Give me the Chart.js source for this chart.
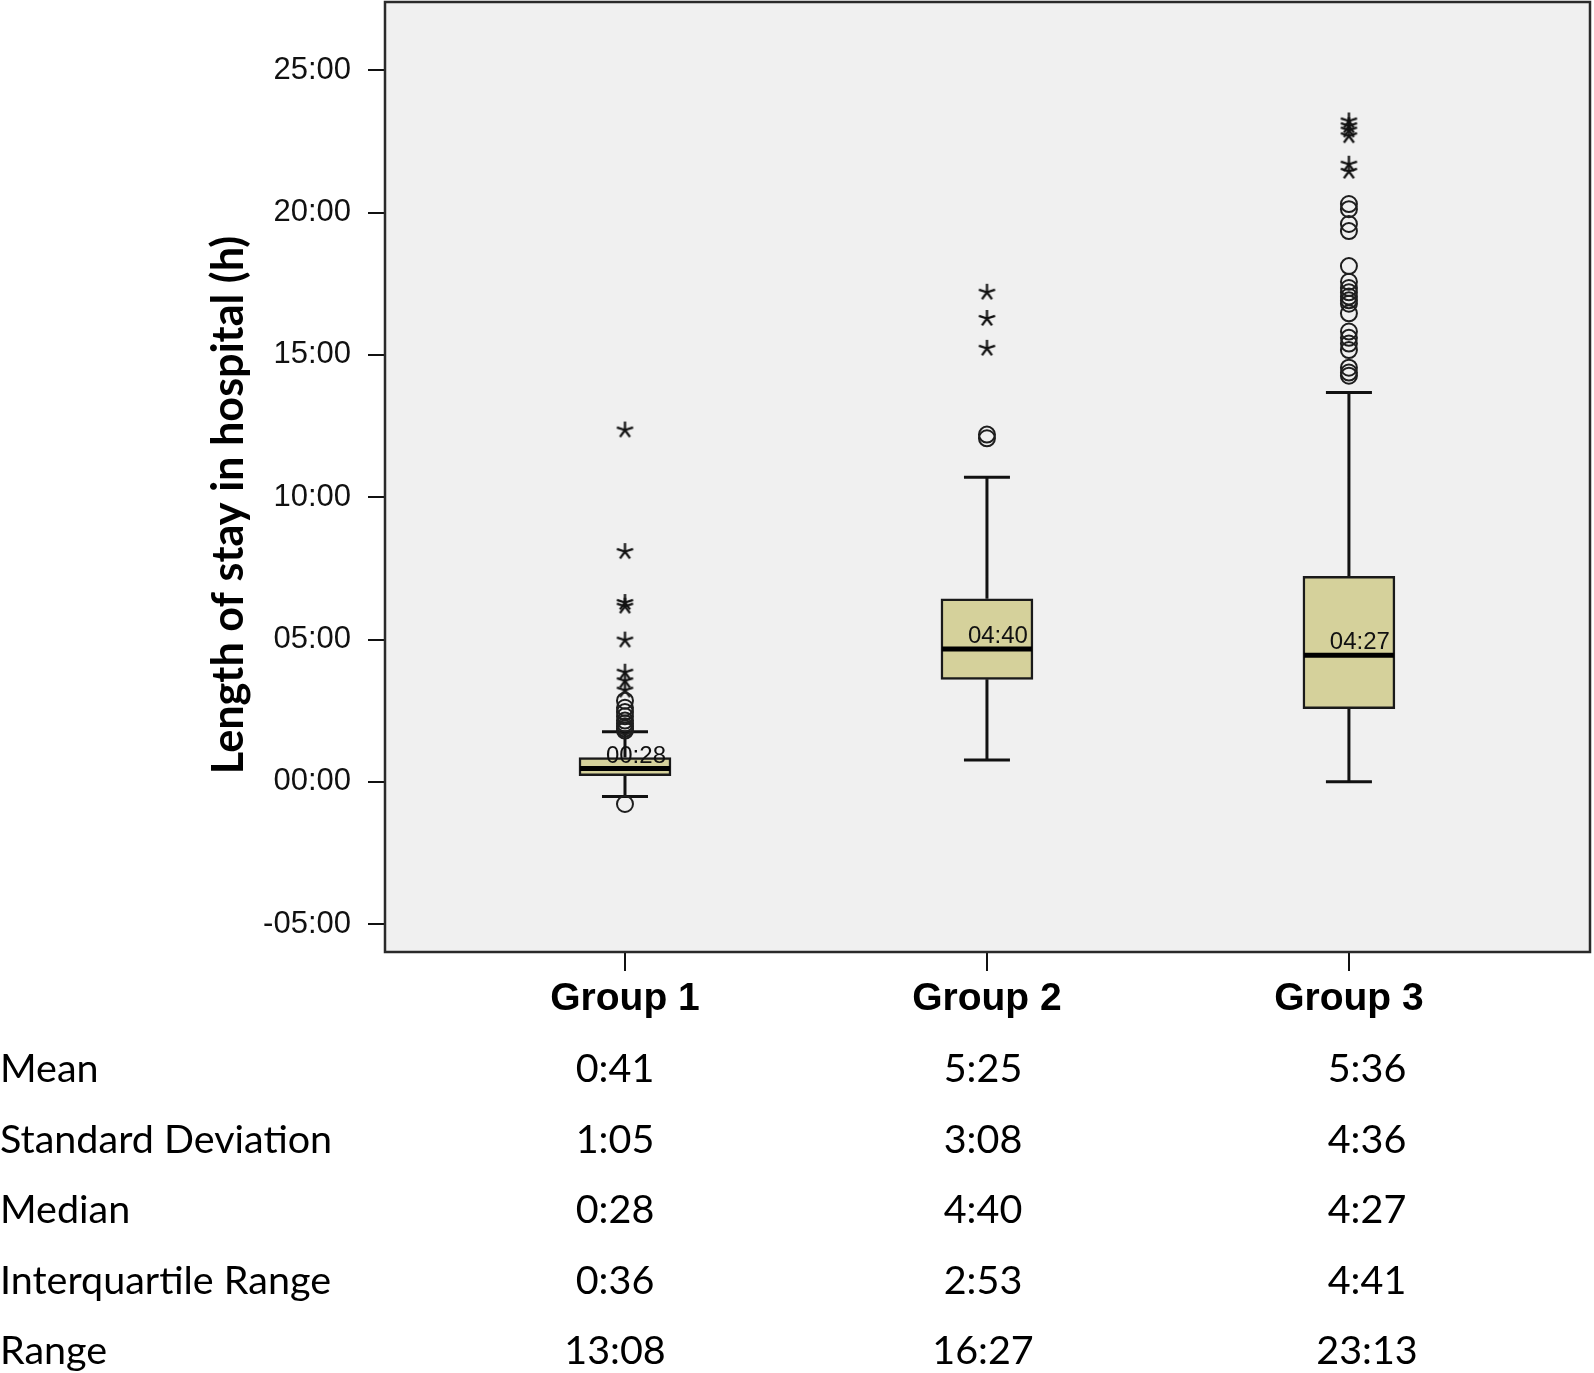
<!DOCTYPE html>
<html>
<head>
<meta charset="utf-8">
<script src="https://cdn.jsdelivr.net/npm/chart.js@4.4.1/dist/chart.umd.min.js"></script>
<style>
  html, body { margin: 0; padding: 0; background: #fff; }
  canvas { display: block; }
</style>
</head>
<body>
<canvas id="c" width="1594" height="1373"></canvas>
<script>
// data (hours)
const groups = ['Group 1', 'Group 2', 'Group 3'];
const q1 = [0.22, 3.60, 2.57];
const q3 = [0.85, 6.43, 7.22];
const medians = [0.4667, 4.6667, 4.45];
const whiskerLow = [-0.52, 0.77, 0.0];
const whiskerHigh = [1.76, 10.70, 13.68];
const circleOutliers = [
  [2.85, 2.6, 2.45, 2.3, 2.15, 2.05, 1.95, 1.87, 1.8, -0.78],
  [12.2, 12.07],
  [20.3, 20.12, 19.6, 19.35, 18.12, 17.57, 17.35, 17.2, 17.05, 16.92, 16.8, 16.46, 15.82, 15.6, 15.4, 15.17, 14.55, 14.38, 14.27]
];
const starOutliers = [
  [12.36, 8.09, 6.3, 6.17, 4.98, 3.85, 3.55, 3.22],
  [17.2, 16.28, 15.23],
  [23.22, 23.05, 22.9, 22.7, 21.7, 21.45]
];
const yTicks = [-5, 0, 5, 10, 15, 20, 25];

// table under the plot
const statNames = ['Mean', 'Standard Deviation', 'Median', 'Interquartile Range', 'Range'];
const statGroup1 = ['0:41', '1:05', '0:28', '0:36', '13:08'];
const statGroup2 = ['5:25', '3:08', '4:40', '2:53', '16:27'];
const statGroup3 = ['5:36', '4:36', '4:27', '4:41', '23:13'];

const yTitle = 'Length of stay in hospital (h)';

// sizes
const BOX_W = 92;        // px
const PX_PER_UNIT = 362; // x px per group step
const capHalf = 23 / PX_PER_UNIT;
const boxHalf = (BOX_W / 2 - 1) / PX_PER_UNIT;

function pad2(n) { return (n < 10 ? '0' : '') + n; }
function fmtHours(h) {
  const sign = h < 0 ? '-' : '';
  const m = Math.round(Math.abs(h) * 60);
  return sign + pad2(Math.floor(m / 60)) + ':' + pad2(m % 60);
}

function makeStar(size, lw) {
  const c = document.createElement('canvas');
  c.width = size; c.height = size;
  const g = c.getContext('2d');
  g.strokeStyle = '#111';
  g.lineWidth = lw;
  const r = size / 2 - 1;
  g.beginPath();
  for (let k = 0; k < 5; k++) {
    const a = -Math.PI / 2 + k * 2 * Math.PI / 5;
    g.moveTo(size / 2, size / 2);
    g.lineTo(size / 2 + r * Math.cos(a), size / 2 + r * Math.sin(a));
  }
  g.stroke();
  return c;
}
const starImg = makeStar(19, 2.3);

// build segment data
const whiskerData = [];
const capData = [];
const medianData = [];
groups.forEach((g, i) => {
  const x = i + 1;
  whiskerData.push({x: x, y: q3[i]}, {x: x, y: whiskerHigh[i]}, {x: x, y: null});
  whiskerData.push({x: x, y: q1[i]}, {x: x, y: whiskerLow[i]}, {x: x, y: null});
  capData.push({x: x - capHalf, y: whiskerHigh[i]}, {x: x + capHalf, y: whiskerHigh[i]}, {x: x, y: null});
  capData.push({x: x - capHalf, y: whiskerLow[i]}, {x: x + capHalf, y: whiskerLow[i]}, {x: x, y: null});
  medianData.push({x: x - boxHalf, y: medians[i]}, {x: x + boxHalf, y: medians[i]}, {x: x, y: null});
});
const boxData = groups.map((g, i) => ({x: i + 1, y: [q1[i], q3[i]]}));
const circleData = [];
const starData = [];
circleOutliers.forEach((arr, i) => arr.forEach(v => circleData.push({x: i + 1, y: v})));
starOutliers.forEach((arr, i) => arr.forEach(v => starData.push({x: i + 1, y: v})));

const boxPlugin = {
  id: 'boxExtras',
  beforeDraw(chart) {
    const {ctx, chartArea: a} = chart;
    ctx.save();
    ctx.fillStyle = '#fff';
    ctx.fillRect(0, 0, chart.width, chart.height);
    ctx.fillStyle = '#f0f0f0';
    ctx.fillRect(a.left, a.top, a.right - a.left, a.bottom - a.top);
    ctx.restore();
  },
  afterDatasetsDraw(chart) {
    const {ctx, scales: {x, y}} = chart;
    ctx.save();
    ctx.font = '24px "Liberation Sans", Arial, sans-serif';
    ctx.fillStyle = '#111';
    ctx.textAlign = 'right';
    ctx.textBaseline = 'alphabetic';
    medians.forEach((m, i) => {
      const px = x.getPixelForValue(i + 1) + BOX_W / 2 - 5;
      const py = y.getPixelForValue(m) - 6;
      ctx.fillText(fmtHours(m), px, py);
    });
    ctx.restore();
  },
  afterDraw(chart) {
    const {ctx, chartArea: a} = chart;
    ctx.save();
    // frame
    ctx.strokeStyle = '#2a2a2a';
    ctx.lineWidth = 2.5;
    ctx.strokeRect(a.left, a.top, a.right - a.left, a.bottom - a.top);
    // y title, sized to the reference length
    ctx.font = 'bold 40px Lato, "Liberation Sans", sans-serif';
    const fs = 40 * 539 / ctx.measureText(yTitle).width;
    ctx.font = 'bold ' + fs.toFixed(1) + 'px Lato, "Liberation Sans", sans-serif';
    ctx.translate(229, 505);
    ctx.rotate(-Math.PI / 2);
    ctx.fillStyle = '#000';
    ctx.textAlign = 'center';
    ctx.textBaseline = 'middle';
    ctx.fillText(yTitle, 0, 0);
    ctx.restore();

    // stats table
    ctx.save();
    ctx.font = '39.5px Lato, "Open Sans", sans-serif';
    ctx.fillStyle = '#000';
    ctx.textBaseline = 'alphabetic';
    const colX = [615, 983, 1367];
    const cols = [statGroup1, statGroup2, statGroup3];
    statNames.forEach((name, r) => {
      const by = 1082 + r * 70.5;
      ctx.textAlign = 'left';
      ctx.fillText(name, 0, by);
      ctx.textAlign = 'center';
      cols.forEach((col, c) => ctx.fillText(col[r], colX[c], by));
    });
    ctx.restore();
  }
};

new Chart(document.getElementById('c'), {
  type: 'bar',
  data: {
    datasets: [
      {
        type: 'line', data: whiskerData, borderColor: '#111', borderWidth: 3,
        pointRadius: 0, spanGaps: false, order: 5
      },
      {
        type: 'line', data: capData, borderColor: '#111', borderWidth: 3,
        pointRadius: 0, spanGaps: false, order: 5
      },
      {
        type: 'bar', data: boxData, backgroundColor: '#d5d19b', borderColor: '#1a1a1a',
        borderWidth: 2.5, borderSkipped: false, barThickness: BOX_W, grouped: false, order: 4
      },
      {
        type: 'line', data: medianData, borderColor: '#000', borderWidth: 5,
        pointRadius: 0, spanGaps: false, order: 3
      },
      {
        type: 'scatter', data: circleData, pointStyle: 'circle', pointRadius: 8,
        borderColor: '#1e1e1e', borderWidth: 2, backgroundColor: 'rgba(0,0,0,0)', order: 1
      },
      {
        type: 'scatter', data: starData, pointStyle: starImg, pointRadius: 9, order: 1
      }
    ]
  },
  options: {
    responsive: false,
    animation: false,
    layout: { autoPadding: false, padding: { top: 2, right: 4, left: 0, bottom: 0 } },
    plugins: { legend: { display: false }, tooltip: { enabled: false } },
    scales: {
      x: {
        type: 'linear',
        min: 0.337,
        max: 3.666,
        offset: false,
        afterFit(scale) {
          scale.height = 421;
          scale.paddingLeft = 0; scale.paddingRight = 0;
        },
        afterBuildTicks(scale) { scale.ticks = groups.map((g, i) => ({value: i + 1})); },
        border: { display: false },
        grid: { offset: false, drawOnChartArea: false, drawTicks: true, tickLength: 19, color: '#111', lineWidth: 2 },
        ticks: {
          padding: 5,
          color: '#000',
          font: { family: '"Liberation Sans", Arial, sans-serif', size: 39, weight: 'bold' },
          callback: (v) => groups[Math.round(v) - 1]
        }
      },
      y: {
        min: -5.98,
        max: 27.4,
        afterFit(scale) {
          scale.width = 385;
          scale.paddingTop = 0; scale.paddingBottom = 0;
        },
        afterBuildTicks(scale) { scale.ticks = yTicks.map(v => ({value: v})); },
        border: { display: false },
        grid: { drawOnChartArea: false, drawTicks: true, tickLength: 17, color: '#111', lineWidth: 2 },
        ticks: {
          padding: 17,
          color: '#111',
          font: { family: '"Liberation Sans", Arial, sans-serif', size: 31 },
          callback: (v) => fmtHours(v)
        }
      }
    }
  },
  plugins: [boxPlugin]
});
</script>
</body>
</html>
